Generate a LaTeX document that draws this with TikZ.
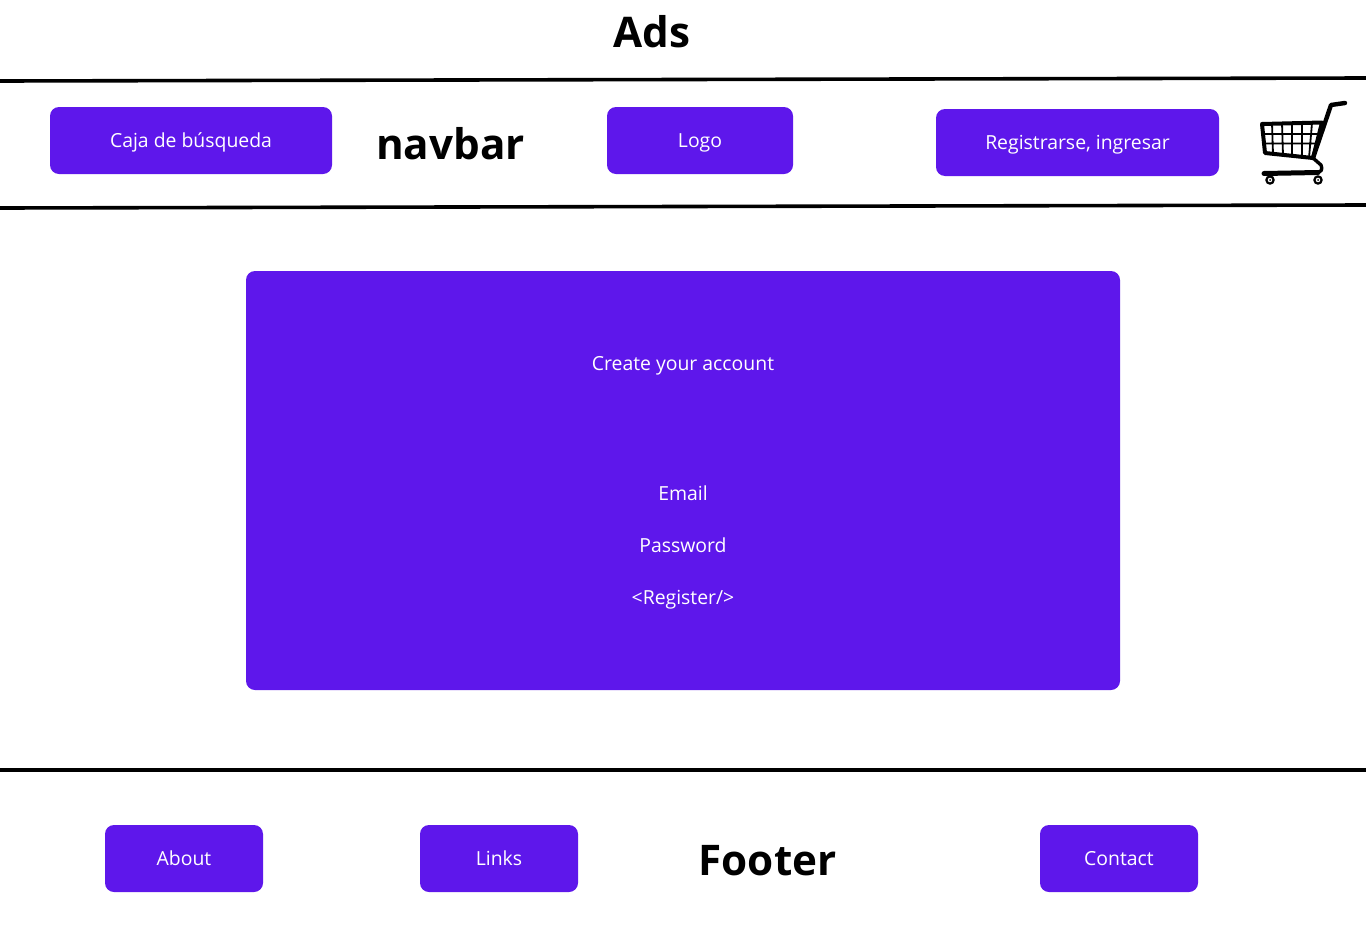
\documentclass[tikz,border=0pt]{standalone}
\usepackage{fontspec}
\setmainfont{Open Sans}
\definecolor{panelviolet}{HTML}{5E17EB}
\tikzset{
  btn/.style={fill=panelviolet,rounded corners=9,inner sep=0pt,text=white,text height=17pt,text depth=4pt,font=\fontsize{19.4}{23}\selectfont},
  lbl/.style={inner sep=0pt,text=white,text height=17pt,text depth=4pt,font=\fontsize{19.4}{23}\selectfont},
  bigtitle/.style={inner sep=0pt,text=black,font=\fontsize{42.2}{50}\selectfont\bfseries},
  rule/.style={line width=3.6pt}
}

\begin{document}
\begin{tikzpicture}[x=1pt,y=-1pt]
\useasboundingbox (0,0) rectangle (1366,948);
% rules
\draw[rule] (0,81) -- (1366,78);
\draw[rule] (0,208) -- (1366,205);
\draw[rule] (0,770) -- (1366,770);
% header
\node[bigtitle] (ads) at (652,32) {Ads};
\node[btn,minimum width=282pt,minimum height=67pt] (search) at (191,140.5) {Caja de búsqueda};
\node[bigtitle] (navbar) at (450.5,144) {navbar};
\node[btn,minimum width=186pt,minimum height=67pt] (logo) at (700,140.5) {Logo};
\node[btn,minimum width=283pt,minimum height=67pt] (register) at (1077.5,142.5) {Registrarse, ingresar};
% cart
\draw[line width=4pt,line join=round] (1262,124) -- (1322,122.5) -- (1313,158) -- (1265,153) -- cycle;
\draw[line width=1.8pt] (1272,123) -- (1273,154) (1282,123) -- (1283,155) (1292,123) -- (1292,156) (1302,123) -- (1302,157) (1312,123) -- (1309,158)
  (1262,134) -- (1319,134) (1263,143.5) -- (1316,143.5);
\draw[line width=4.4pt,line cap=round,line join=round] (1313,158) -- (1331,105) -- (1345,103);
\draw[line width=3.4pt,line join=round] (1313,158) -- (1321,165) .. controls (1323,170) and (1321,172) .. (1317,172);
\draw[line width=5pt,line cap=round] (1264,173.5) -- (1318,172.5);
\draw[line width=2.2pt,fill=white] (1270,180) circle (3.6);
\draw[line width=2.2pt,fill=white] (1318,180) circle (3.6);
\fill (1270,180) circle (1);
\fill (1318,180) circle (1);
% panel
\node[btn,minimum width=874pt,minimum height=419pt] (panel) at (683,480.5) {};
\node[lbl] (create) at (683,363.5) {Create your account};
\node[lbl] (email) at (683,493.5) {Email};
\node[lbl] (password) at (683,545.5) {Password};
\node[lbl] (submit) at (683,597.5) {<Register/>};
% footer
\node[btn,minimum width=158pt,minimum height=67pt] (about) at (184,858.5) {About};
\node[btn,minimum width=158pt,minimum height=67pt] (links) at (499,858.5) {Links};
\node[bigtitle] (footer) at (767.5,861) {Footer};
\node[btn,minimum width=158pt,minimum height=67pt] (contact) at (1119,858.5) {Contact};
\end{tikzpicture}
\end{document}
